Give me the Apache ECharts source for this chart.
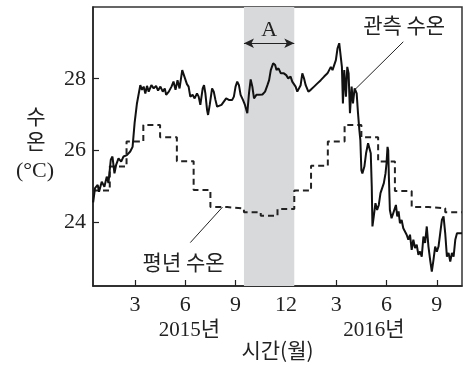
<!DOCTYPE html>
<html><head><meta charset="utf-8">
<script src="https://cdn.jsdelivr.net/npm/echarts@6/dist/echarts.min.js"></script>
<style>html,body{margin:0;padding:0;background:#fff}#c{width:471px;height:368px}</style>
</head><body><div id="c"></div><script>
// ---- data ----
const tickMonths = [3, 6, 9, 12, 15, 18, 21];
const tickLabels = ['3', '6', '9', '12', '3', '6', '9'];
const yTicks = [24, 26, 28];
// monthly normal temperature, Jan 2015 .. Oct 2016
const normalTemp = [24.88, 25.55, 26.25, 26.71, 26.37, 25.70, 24.90, 24.42, 24.38, 24.28, 24.18, 24.37,
                    24.88, 25.57, 26.25, 26.71, 26.37, 25.69, 24.87, 24.42, 24.39, 24.28];
// observed temperature (x in months from start of 2015)
const obsMonth = [0.51,0.62,0.78,0.86,1.02,1.18,1.32,1.42,1.56,1.66,1.78,1.88,2.02,2.18,2.32,2.52,2.72,2.86,2.98,3.12,3.22,3.32,3.42,3.52,3.62,3.72,3.82,3.98,4.12,4.26,4.38,4.52,4.66,4.78,4.86,5.02,5.18,5.30,5.42,5.54,5.66,5.82,5.92,6.00,6.10,6.20,6.30,6.44,6.56,6.70,6.80,6.90,7.04,7.12,7.20,7.30,7.36,7.46,7.60,7.70,7.80,7.90,8.00,8.16,8.30,8.44,8.60,8.80,8.90,9.00,9.10,9.20,9.30,9.44,9.56,9.70,9.80,9.90,10.00,10.10,10.24,10.40,10.60,10.76,10.90,11.00,11.10,11.24,11.36,11.44,11.56,11.70,11.88,12.02,12.14,12.28,12.38,12.48,12.58,12.68,12.78,12.88,12.98,13.08,13.18,13.34,13.48,13.68,13.88,14.08,14.28,14.48,14.58,14.68,14.78,14.88,14.98,15.08,15.18,15.26,15.34,15.40,15.48,15.58,15.66,15.74,15.82,15.92,16.00,16.10,16.22,16.30,16.38,16.44,16.50,16.56,16.68,16.78,16.90,17.00,17.06,17.12,17.16,17.24,17.34,17.44,17.54,17.64,17.74,17.84,17.94,18.00,18.06,18.10,18.14,18.20,18.30,18.40,18.50,18.56,18.64,18.72,18.80,18.90,19.00,19.10,19.20,19.30,19.40,19.50,19.60,19.70,19.80,19.90,20.00,20.10,20.20,20.30,20.40,20.50,20.60,20.70,20.80,20.90,21.00,21.10,21.20,21.30,21.40,21.50,21.60,21.70,21.80,21.90,22.00,22.10,22.20,22.30,22.50];
const obsTemp = [24.55,24.95,25.04,24.85,25.13,24.99,25.27,25.09,25.74,25.83,25.36,25.60,25.78,25.69,25.83,25.87,25.97,26.10,26.76,27.31,27.36,27.82,27.69,27.78,27.59,27.80,27.64,27.82,27.73,27.80,27.67,27.78,27.64,27.73,27.55,27.64,27.78,27.92,27.69,27.96,27.73,28.24,28.10,28.05,27.85,27.78,27.50,27.55,27.45,27.59,27.50,27.27,27.73,27.82,27.59,27.13,26.99,27.27,27.73,27.64,27.41,27.22,27.22,27.27,27.36,27.45,27.41,27.41,27.50,27.78,27.92,27.82,27.55,27.41,27.27,27.04,27.59,27.98,27.78,27.45,27.55,27.55,27.56,27.64,27.82,27.96,28.24,28.43,28.38,28.24,28.29,28.15,28.15,28.10,28.01,28.06,27.92,27.96,27.78,27.64,27.59,27.82,28.15,28.01,27.82,27.64,27.69,27.78,27.87,27.96,28.06,28.15,28.24,28.33,28.24,28.38,28.52,28.85,28.99,29.03,28.33,27.31,28.24,27.50,28.33,28.15,27.04,27.78,27.31,27.73,27.59,27.04,26.57,26.29,25.45,25.36,25.55,25.92,26.20,26.25,25.92,24.99,23.88,24.16,24.53,24.34,24.48,24.81,24.85,25.09,25.36,25.64,26.10,26.01,25.27,24.34,24.11,24.25,24.39,24.48,24.16,24.30,23.97,24.06,23.83,23.88,23.65,23.51,23.65,23.23,23.51,23.28,23.37,23.09,23.18,23.04,23.60,23.42,23.88,23.32,22.95,22.62,22.95,23.32,23.18,23.32,23.69,24.06,24.16,23.69,23.04,23.14,22.90,23.14,23.04,23.51,23.69,23.69,23.69];
const shadeRange = [9.5, 12.5];
const yearLabels = ['2015년', '2016년'];
const yearLabelMonth = [6.25, 17.25];

// ---- chart ----
const SERIF = "'Liberation Serif', 'Noto Sans CJK KR', serif";
const KR = "'Noto Sans CJK KR', 'Noto Sans', sans-serif";
const INK = '#222';
const chart = echarts.init(document.getElementById('c'), null, {renderer: 'canvas'});

const normalData = normalTemp.map((v, i) => [0.5 + i, v]);
normalData.push([0.5 + normalTemp.length, normalTemp[normalTemp.length - 1]]);
const obsData = obsMonth.map((m, i) => [m, obsTemp[i]]);

const textLabel = (size, family) => ({show: true, position: 'inside', color: INK, fontSize: size, fontFamily: family, formatter: p => p.name});

chart.setOption({
  animation: false,
  grid: {left: 93, right: 9, top: 7, bottom: 82, show: true, borderColor: '#333', borderWidth: 1.5},
  xAxis: {
    type: 'value', min: 0.5, max: 22.5,
    axisLine: {lineStyle: {color: INK, width: 1.5}},
    axisTick: {inside: true, length: 6, customValues: tickMonths, lineStyle: {color: INK, width: 1.2}},
    axisLabel: {customValues: tickMonths, formatter: v => tickLabels[tickMonths.indexOf(Math.round(v))],
      fontSize: 22, fontFamily: SERIF, color: INK, margin: 8},
    splitLine: {show: false},
    name: '시간(월)', nameLocation: 'middle', nameGap: 54,
    nameTextStyle: {fontSize: 21, fontFamily: KR, color: INK}
  },
  yAxis: {
    type: 'value', min: 22.22, max: 30,
    axisLine: {show: true, lineStyle: {color: INK, width: 1.5}},
    axisTick: {show: true, inside: true, length: 6, customValues: yTicks, lineStyle: {color: INK, width: 1.2}},
    axisLabel: {customValues: yTicks, fontSize: 22, fontFamily: SERIF, color: INK, margin: 7},
    splitLine: {show: false}
  },
  series: [
    {
      type: 'line', data: [], z: 1, silent: true,
      markArea: {silent: true, itemStyle: {color: '#d8d9db'},
        data: [[{xAxis: shadeRange[0]}, {xAxis: shadeRange[1]}]]},
    },
    {
      type: 'line', step: 'end', data: normalData, showSymbol: false, z: 2, silent: true,
      lineStyle: {color: INK, width: 2, type: [6, 4]}
    },
    {
      type: 'line', data: obsData, showSymbol: false, z: 3, silent: true,
      lineStyle: {color: '#111', width: 2}
    },
    {
      type: 'line', data: [], z: 4, silent: true,
      markLine: {
        silent: true, symbol: 'none', label: {show: false},
        lineStyle: {color: INK, width: 1, type: 'solid'},
        data: [
          [{coord: [19.0, 29.03]}, {coord: [16.1, 27.69]}],
          [{coord: [6.3, 23.43]}, {coord: [8.22, 24.42]}],
          [{coord: [shadeRange[0], 28.99], symbol: 'arrow', symbolSize: [7, 10], symbolRotate: 90},
           {coord: [shadeRange[1], 28.99], symbol: 'arrow', symbolSize: [7, 10]}]
        ]
      },
      markPoint: {
        silent: true, symbol: 'rect', symbolSize: 0,
        data: [
          {name: '관측 수온', coord: [19.05, 29.5], label: textLabel(21, KR)},
          {name: '평년 수온', coord: [5.9, 22.9], label: textLabel(21, KR)},
          {name: 'A', coord: [11.0, 29.36], label: textLabel(22, SERIF)}
        ]
      }
    }
  ]
});

const yPix = 330;
const graphics = yearLabels.map((t, i) => {
  const p = chart.convertToPixel({gridIndex: 0}, [yearLabelMonth[i], 24]);
  return {type: 'text', x: p[0], y: yPix, style: {text: t, fill: INK, fontSize: 21, fontFamily: SERIF, align: 'center', verticalAlign: 'middle'}};
});
graphics.push({type: 'text', x: 36, y: 116.5, style: {text: '수', fill: INK, fontSize: 21, fontFamily: KR, align: 'center', verticalAlign: 'middle'}});
graphics.push({type: 'text', x: 36, y: 141.5, style: {text: '온', fill: INK, fontSize: 21, fontFamily: KR, align: 'center', verticalAlign: 'middle'}});
graphics.push({type: 'text', x: 35, y: 171.5, style: {text: '(°C)', fill: INK, fontSize: 22, fontFamily: SERIF, align: 'center', verticalAlign: 'middle'}});
chart.setOption({graphic: graphics});
</script></body></html>
